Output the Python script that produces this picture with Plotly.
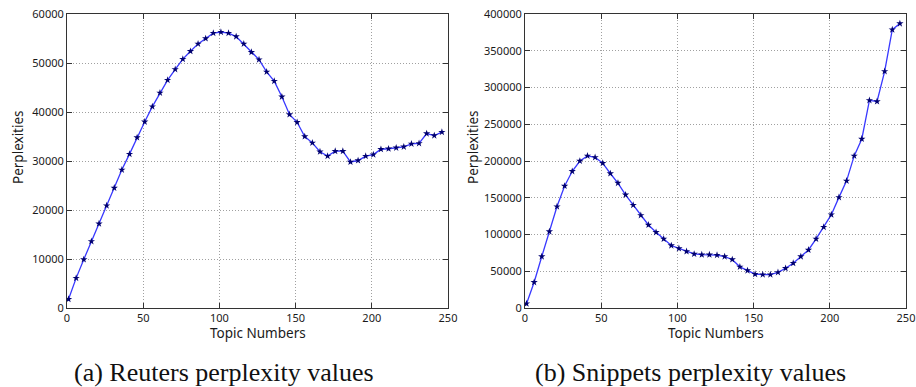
import plotly.graph_objects as go

topics = list(range(1, 250, 5))

reuters = [1800, 6100, 9900, 13600, 17200, 20900, 24500, 28200, 31400, 34800,
           38000, 41100, 43900, 46500, 48700, 50800, 52400, 53900, 55000, 56100,
           56300, 56100, 55400, 53900, 52200, 50700, 48200, 46300, 43100, 39500,
           37900, 35000, 33700, 31900, 31000, 32000, 32000, 29800, 30100, 31000,
           31300, 32400, 32500, 32700, 32900, 33500, 33600, 35600, 35200, 35900]

snippets = [5900, 35000, 70000, 104000, 138000, 166000, 186000, 200000, 207000, 205000,
            197000, 183000, 170000, 154000, 140000, 126000, 113000, 103000, 94000, 85000,
            81000, 77000, 73500, 72500, 72500, 72000, 70000, 66000, 56000, 51000,
            46000, 45400, 45400, 48500, 54000, 61000, 70000, 79000, 94000, 110000,
            127000, 150500, 173000, 207000, 230000, 282500, 281000, 322000, 378700, 387000]

x_ticks = [0, 50, 100, 150, 200, 250]
reuters_ticks = [0, 10000, 20000, 30000, 40000, 50000, 60000]
snippets_ticks = [0, 50000, 100000, 150000, 200000, 250000, 300000, 350000, 400000]

captions = ["(a) Reuters perplexity values", "(b) Snippets perplexity values"]

W, H = 916, 387
fig = go.Figure()

line_style = dict(color="#3838ff", width=1.3)
marker_style = dict(symbol="star", size=5.5, color="#000070", line=dict(width=0))

fig.add_trace(go.Scatter(x=topics, y=reuters, mode="lines+markers", line=line_style,
                         marker=marker_style, xaxis="x", yaxis="y", showlegend=False))
fig.add_trace(go.Scatter(x=topics, y=snippets, mode="lines+markers", line=line_style,
                         marker=marker_style, xaxis="x2", yaxis="y2", showlegend=False))

tick_font = dict(family="Noto Sans", size=11, color="#1a1a1a")
ydom = [1 - 308 / H, 1 - 14 / H]
grid = dict(showgrid=True, gridcolor="#a0a0a0", griddash="1px,2px", gridwidth=1)
frame = dict(showline=True, linecolor="#333", linewidth=1, mirror="ticks",
             ticks="inside", ticklen=5, tickcolor="#333", tickfont=tick_font,
             zeroline=False, automargin=False)

def xaxis(dom, anchor):
    return dict(domain=dom, anchor=anchor, range=[0, 250], tickvals=x_ticks, **grid, **frame)

def yaxis(dom, anchor, rng, vals):
    return dict(domain=dom, anchor=anchor, range=rng, tickvals=vals, tickformat="d",
                **grid, **frame)

fig.update_layout(
    width=W, height=H,
    margin=dict(l=0, r=0, t=0, b=0, autoexpand=False),
    paper_bgcolor="white", plot_bgcolor="white",
    xaxis=xaxis([67 / W, 448 / W], "y"),
    yaxis=yaxis(ydom, "x", [0, 60000], reuters_ticks),
    xaxis2=xaxis([525 / W, 906 / W], "y2"),
    yaxis2=yaxis(ydom, "x2", [0, 400000], snippets_ticks),
)

title_font = dict(family="Noto Sans", size=13.5, color="#1a1a1a")
annotations = []
for cx, ly in [((67 + 448) / 2, 18), ((525 + 906) / 2, 473)]:
    annotations.append(dict(text="Topic Numbers", x=cx / W, y=1 - 333 / H, xref="paper", yref="paper",
                            showarrow=False, font=title_font, xanchor="center", yanchor="middle"))
    annotations.append(dict(text="Perplexities", x=ly / W, y=1 - 147 / H, xref="paper", yref="paper",
                            showarrow=False, font=title_font, textangle=-90,
                            xanchor="center", yanchor="middle"))
for cap, cx in zip(captions, [224, 690]):
    annotations.append(dict(text=cap, x=cx / W, y=1 - 372 / H, xref="paper", yref="paper",
                            showarrow=False, xanchor="center", yanchor="middle",
                            font=dict(family="Liberation Serif", size=26, color="#111")))
fig.update_layout(annotations=annotations)

fig.write_html("out.html", config={"displayModeBar": False},
               post_script="document.body.style.margin='0';document.body.style.overflow='hidden';")
